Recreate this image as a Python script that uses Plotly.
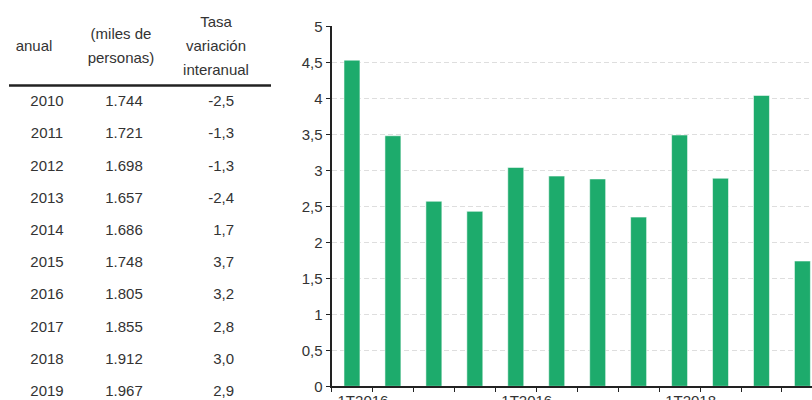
import plotly.graph_objects as go

# ---- table data ----
years = ["2010", "2011", "2012", "2013", "2014", "2015", "2016", "2017", "2018", "2019"]
personas = ["1.744", "1.721", "1.698", "1.657", "1.686", "1.748", "1.805", "1.855", "1.912", "1.967"]
tasa = ["-2,5", "-1,3", "-1,3", "-2,4", "1,7", "3,7", "3,2", "2,8", "3,0", "2,9"]
header_col1 = ["anual"]
header_col2 = ["(miles de", "personas)"]
header_col3 = ["Tasa", "variación", "interanual"]

# ---- bar chart data ----
values = [4.53, 3.48, 2.57, 2.43, 3.04, 2.92, 2.88, 2.35, 3.49, 2.89, 4.04, 1.74]
tick_positions = [0, 4, 8]
tick_labels = ["1T2016", "1T2016", "1T2018"]

FONT = "Liberation Sans, Arial, Helvetica, sans-serif"
TXT = "#333333"
W, H = 812, 400
TABLE_W = 320

fig = go.Figure()

# bars
fig.add_trace(go.Bar(
    x=list(range(len(values))), y=values, width=0.39,
    marker=dict(color="#1dab6c", line=dict(color="rgba(255,255,255,0.55)", width=1)),
    showlegend=False, hoverinfo="skip",
))

# table rendered as text traces on a pixel-like hidden axis pair
row0, rowstep = 102.5, 32.2
row_y = [row0 + rowstep * i for i in range(len(years))]

def text_trace(xpos, ys, labels, pos):
    return go.Scatter(x=[xpos] * len(labels), y=ys, text=labels, mode="text",
                      textposition=pos, xaxis="x2", yaxis="y2",
                      textfont=dict(size=15, color=TXT, family=FONT),
                      showlegend=False, hoverinfo="skip", cliponaxis=False)

fig.add_trace(text_trace(47, row_y, years, "middle center"))
fig.add_trace(text_trace(124, row_y, personas, "middle center"))
fig.add_trace(text_trace(234, row_y, tasa, "middle left"))
fig.add_trace(text_trace(34, [47], header_col1, "middle center"))
fig.add_trace(text_trace(121, [35, 59], header_col2, "middle center"))
fig.add_trace(text_trace(216, [23, 47.5, 71.5], header_col3, "middle center"))

fig.add_shape(type="line", x0=9, x1=271, y0=85.5, y1=85.5, xref="x2", yref="y2",
              line=dict(color="#222222", width=2.5))

x_left_px = 331.5
cat_px = 40.95
x_max = -0.5 + (W - x_left_px) / cat_px

fig.update_layout(
    width=W, height=H,
    margin=dict(l=0, r=0, t=0, b=0, autoexpand=False),
    paper_bgcolor="white", plot_bgcolor="rgba(0,0,0,0)",
    separators=",.",
    font=dict(family=FONT, color=TXT, size=15),
    bargap=0.6,
    xaxis=dict(
        domain=[x_left_px / W, 1], range=[-0.5, x_max],
        tickmode="array", tickvals=tick_positions, ticktext=tick_labels,
        ticks="", ticklabelshift=11,
        showline=True, linecolor="#222222", linewidth=2,
        showgrid=False, zeroline=False,
        tickfont=dict(size=15, color=TXT, family=FONT),
        minor=dict(tickmode="linear", tick0=-0.5, dtick=1, ticks="outside",
                   ticklen=4, tickwidth=1, tickcolor="#222222", showgrid=False),
    ),
    yaxis=dict(
        domain=[(H - 386.3) / H, (H - 26.3) / H], range=[0, 5],
        dtick=0.5, tick0=0,
        ticks="outside", ticklen=4, tickwidth=1, tickcolor="#222222",
        showline=True, linecolor="#222222", linewidth=2,
        showgrid=True, gridcolor="#dedede", gridwidth=1, griddash="5px,3px",
        zeroline=False,
        tickfont=dict(size=15, color=TXT, family=FONT),
    ),
    xaxis2=dict(domain=[0, TABLE_W / W], range=[0, TABLE_W], visible=False, anchor="y2"),
    yaxis2=dict(domain=[0, 1], range=[H, 0], visible=False, anchor="x2"),
)

fig.write_html("out.html")
